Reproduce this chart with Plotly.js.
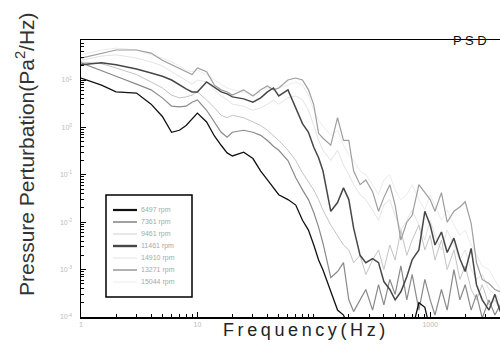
<!DOCTYPE html>
<html><head><meta charset="utf-8">
<script src="https://cdn.plot.ly/plotly-3.0.1.min.js"></script>
<style>html,body{margin:0;padding:0;background:#fff}#chart{width:500px;height:347px}</style>
</head><body><div id="chart"></div>
<script>
const freq = [1,1.5,2,3,4,5,6,7,8,9,10,12,14,16,18,20,25,30,35,40,45,50,60,70,80,90,100,110,120,140,160,180,200,220,250,280,320,360,400,450,500,560,630,700,800,900,1000,1100,1250,1400,1600,1800,2000,2250,2500,2800,3200,3600,4000];

const names = ['6497 rpm','7361 rpm','9461 rpm','11461 rpm','14910 rpm','13271 rpm','15044 rpm'];

const psd1 = [11,7.8,5.6,5.3,3.1,1.7,0.79,0.87,1.1,1.5,2.0,1.3,0.66,0.42,0.29,0.25,0.30,0.22,0.12,0.078,0.053,0.038,0.030,0.023,0.011,0.0068,0.0033,0.0016,9.8e-4,3.4e-4,1.4e-4,1.1e-4,5.3e-5,3.3e-5,2.6e-5,3.6e-5,4.2e-5,3.3e-5,2.6e-5,3.6e-5,4.2e-5,5.9e-5,6.8e-5,5.3e-5,2.0e-4,1.6e-4,5.3e-5,3.3e-5,2.6e-5,4.2e-5,3.3e-5,2.0e-5,3.6e-5,2.6e-5,4.0e-5,3.0e-5,2.0e-5,3.3e-5,2.6e-5];
const psd2 = [23,16,12,8.2,6.2,4.2,2.8,2.7,2.8,3.4,3.8,2.3,1.3,0.79,0.62,0.79,0.87,0.79,0.68,0.53,0.40,0.33,0.20,0.087,0.048,0.030,0.016,0.0079,0.0036,6.8e-4,9.1e-4,0.0014,2.3e-4,1.3e-4,2.3e-4,3.8e-4,1.4e-4,4.8e-4,1.8e-4,6.2e-4,3.0e-4,0.0012,2.3e-4,7.9e-4,1.4e-4,6.2e-4,2.3e-4,1.1e-4,3.8e-4,1.4e-4,1.0e-3,2.3e-4,4.8e-4,1.4e-4,3.0e-4,9.5e-5,2.3e-4,1.1e-4,1.8e-4];
const psd3 = [24,22,18,13,9.1,6.8,4.8,4.2,4.4,4.8,5.6,3.8,2.6,1.8,1.6,1.8,1.6,1.3,1.1,0.87,0.68,0.53,0.33,0.20,0.11,0.071,0.048,0.030,0.018,0.0087,0.0053,0.0033,0.0026,0.0014,0.0020,7.9e-4,0.0016,0.0026,1.0e-3,0.0033,0.0016,0.0068,0.0020,0.0042,0.0087,0.0026,0.0053,0.0016,0.0042,1.0e-3,0.0026,6.2e-4,0.0012,3.8e-4,2.3e-4,4.8e-4,1.8e-4,2.3e-4,1.4e-4];
const psd4 = [21,23,21,17,14,12,10,7.8,6.5,5.6,5.6,9.1,7.1,5.6,5.1,4.4,4.0,3.4,4.2,5.6,6.8,4.6,6.2,2.6,1.2,0.79,0.38,0.23,0.12,0.017,0.026,0.053,0.030,0.0075,0.0020,0.0014,0.0017,0.0014,5.6e-4,3.8e-4,2.3e-4,3.4e-4,7.1e-4,0.0016,0.0026,0.017,0.0087,0.0033,0.0062,0.0023,0.0046,0.0017,9.1e-4,0.0028,4.8e-4,2.3e-4,1.4e-4,3.0e-4,1.3e-4];
const psd5 = [26,32,34,29,24,20,15,12,10,8.2,10,9.1,6.2,4.6,3.8,3.1,2.8,2.3,2.6,3.1,3.8,3.1,4.2,4.6,3.8,2.3,1.1,0.53,0.33,0.20,0.33,0.16,0.10,0.062,0.038,0.030,0.018,0.011,0.023,0.030,0.014,0.0068,0.011,0.018,0.0087,0.0042,0.011,0.0053,0.0026,0.0068,0.0033,0.0016,0.0026,1.0e-3,6.2e-4,7.9e-4,3.8e-4,3.0e-4,2.3e-4];
const psd6 = [29,37,43,43,37,26,21,18,15,13,18,15,7.8,6.2,5.6,4.8,6.2,4.6,6.2,7.5,6.2,6.8,10,11,10,6.2,3.0,0.75,0.59,0.42,1.6,0.53,0.53,0.12,0.062,0.078,0.044,0.017,0.033,0.062,0.023,0.0042,0.010,0.014,0.062,0.042,0.030,0.017,0.042,0.010,0.017,0.021,0.027,0.0095,0.0014,6.2e-4,5.1e-4,3.8e-4,3.4e-4];
const psd7 = [34,43,47,43,34,29,24,20,16,15,16,13,10,8.2,6.8,6.2,5.6,4.8,5.6,6.8,6.2,6.8,7.8,9.1,7.8,4.8,2.3,1.4,1.1,0.68,0.87,0.42,0.26,0.20,0.12,0.10,0.062,0.038,0.078,0.10,0.048,0.030,0.038,0.062,0.030,0.018,0.038,0.023,0.011,0.018,0.0087,0.0053,0.0068,0.0033,0.0020,0.0012,1.0e-3,6.2e-4,3.8e-4];

const yTickVals = [1e-4,1e-3,1e-2,1e-1,1,10];
const yTickText = ['10<sup>-4</sup>','10<sup>-3</sup>','10<sup>-2</sup>','10<sup>-1</sup>','10<sup>0</sup>','10<sup>1</sup>'];
const xTickVals = [1,10,1000];
const xTickText = ['1','10','1000'];

const series = [psd1,psd2,psd3,psd4,psd5,psd6,psd7];
const colors = ['#111111','#8a8a8a','#c4c4c4','#474747','#e4e4e4','#9e9e9e','#ececec'];
const widths = [1.3,1.2,1,1.5,1,1.2,1];
const legendWidths = [2.2,1.6,0.8,2.4,1,1.6,1];
const drawOrder = [6,4,2,5,1,3,0];

const W = 500, H = 347, ML = 81, MR = 0, MT = 40, MB = 30;
const pw = W - ML - MR, ph = H - MT - MB;
const px = x => (x - ML) / pw;
const py = y => (H - MB - y) / ph;

const traces = drawOrder.map(i => ({
  x: freq, y: series[i], type: 'scatter', mode: 'lines', name: names[i],
  line: {color: colors[i], width: widths[i]}, showlegend: false, hoverinfo: 'skip'
}));

const font = 'Liberation Sans, Arial, sans-serif';
const TS = '\u2009';
const xTitle = 'Frequency(Hz)'.split('').join(TS);
const shapes = [{type:'rect', xref:'paper', yref:'paper', x0:px(106), x1:px(192), y0:py(297), y1:py(195), line:{color:'#000', width:1.5}, fillcolor:'rgba(0,0,0,0)'}];
const annotations = [
  {xref:'paper', yref:'paper', x:px(304), y:py(330), text:xTitle, showarrow:false, xanchor:'center', yanchor:'middle', font:{family:font, size:18, color:'#222'}},
  {xref:'paper', yref:'paper', x:px(25), y:py(154), text:'Pressure Perturbation(Pa<sup>2</sup>/Hz)', textangle:-90, showarrow:false, xanchor:'center', yanchor:'middle', font:{family:font, size:21, color:'#333'}},
  {xref:'paper', yref:'paper', x:px(470), y:py(40), text:'P S D', showarrow:false, xanchor:'center', yanchor:'middle', font:{family:font, size:13, color:'#111'}}
];
names.forEach((n, i) => {
  const yy = 210 + i * 12;
  shapes.push({type:'line', xref:'paper', yref:'paper', x0:px(113), x1:px(137), y0:py(yy), y1:py(yy), line:{color:colors[i], width:legendWidths[i]}});
  annotations.push({xref:'paper', yref:'paper', x:px(139), y:py(yy), text:n, showarrow:false, xanchor:'left', yanchor:'middle', font:{family:font, size:7, color:'#a8a8a8'}});
});

const axisCommon = {
  type: 'log', ticks: 'inside', ticklen: 5, tickwidth: 1, tickcolor: '#000',
  showline: true, linecolor: '#000', linewidth: 1.5, showgrid: false, zeroline: false,
  tickmode: 'array', tickfont: {family: font, size: 7, color: '#bbb'},
  minor: {dtick: 'D1', ticks: 'inside', ticklen: 3, tickwidth: 1, tickcolor: '#000', showgrid: false}
};

const layout = {
  width: W, height: H, margin: {l: ML, r: MR, t: MT, b: MB},
  paper_bgcolor: '#fff', plot_bgcolor: '#fff', showlegend: false,
  xaxis: Object.assign({}, axisCommon, {range: [0, 3.6], tickvals: xTickVals, ticktext: xTickText, mirror: true}),
  yaxis: Object.assign({}, axisCommon, {range: [-4, 1.844], tickvals: yTickVals, ticktext: yTickText, mirror: false, ticklabelstandoff: 6}),
  shapes: shapes, annotations: annotations
};

Plotly.newPlot('chart', traces, layout, {staticPlot: true, displayModeBar: false});
</script></body></html>
